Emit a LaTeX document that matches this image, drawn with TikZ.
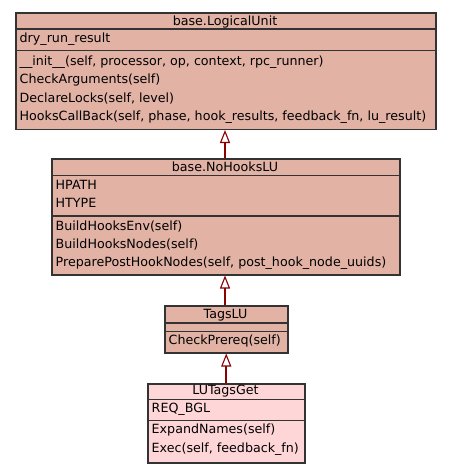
\documentclass[tikz,border=0pt]{standalone}
\usepackage{fontspec}
\setmainfont{DejaVu Sans}
\usetikzlibrary{arrows.meta}
\definecolor{clsfill}{RGB}{226,178,165}
\definecolor{leaffill}{RGB}{255,214,216}
\definecolor{clsline}{RGB}{51,51,51}
\definecolor{inhline}{RGB}{139,0,0}
\begin{document}
\begin{tikzpicture}[x=1pt,y=-1pt,
  umlbox/.style={draw=clsline, line width=1.5pt, rectangle, anchor=north west, inner sep=0pt},
  sep/.style={draw=clsline, line width=1.5pt},
  txt/.style={inner sep=0pt, font=\fontsize{12.67}{15}\selectfont},
  row/.style={txt, anchor=base west},
  title/.style={txt, anchor=base},
  inherit/.style={draw=inhline, line width=2.2pt,
    -{Triangle[open, length=13pt, width=10pt, line width=1.1pt]}}]
  \useasboundingbox[fill=white] (0,0) rectangle (451,472);

  % base.LogicalUnit
  \node[umlbox, fill=clsfill, minimum width=420pt, minimum height=116.5pt] (lu) at (15,12) {};
  \draw[sep] (15,29) -- (435,29);
  \draw[sep] (15,50.5) -- (435,50.5);
  \node[title] (lu-name) at (225,25) {base.LogicalUnit};
  \node[row] (lu-a1) at (19.5,42.5) {dry\_run\_result};
  \node[row] (lu-m1) at (19.5,65) {\_\_init\_\_(self, processor, op, context, rpc\_runner)};
  \node[row] (lu-m2) at (19.5,83.5) {CheckArguments(self)};
  \node[row] (lu-m3) at (19.5,102) {DeclareLocks(self, level)};
  \node[row] (lu-m4) at (19.5,120.5) {HooksCallBack(self, phase, hook\_results, feedback\_fn, lu\_result)};

  % base.NoHooksLU
  \node[umlbox, fill=clsfill, minimum width=348pt, minimum height=116pt] (nh) at (51,158) {};
  \draw[sep] (51,175.7) -- (399,175.7);
  \draw[sep] (51,216) -- (399,216);
  \node[title] (nh-name) at (225,171.3) {base.NoHooksLU};
  \node[row] (nh-a1) at (55.5,189.3) {HPATH};
  \node[row] (nh-a2) at (55.5,207.7) {HTYPE};
  \node[row] (nh-m1) at (55.5,230) {BuildHooksEnv(self)};
  \node[row] (nh-m2) at (55.5,248.3) {BuildHooksNodes(self)};
  \node[row] (nh-m3) at (55.5,266.7) {PreparePostHookNodes(self, post\_hook\_node\_uuids)};

  % TagsLU
  \node[umlbox, fill=clsfill, minimum width=123pt, minimum height=47pt] (tg) at (164,305) {};
  \draw[sep] (164,323) -- (287,323);
  \draw[sep] (164,331.5) -- (287,331.5);
  \node[title] (tg-name) at (225.5,318) {TagsLU};
  \node[row] (tg-m1) at (168.5,344.3) {CheckPrereq(self)};

  % LUTagsGet
  \node[umlbox, fill=leaffill, minimum width=157pt, minimum height=79pt] (gt) at (147,383) {};
  \draw[sep] (147,399.3) -- (304,399.3);
  \draw[sep] (147,420.5) -- (304,420.5);
  \node[title] (gt-name) at (225.5,394.3) {LUTagsGet};
  \node[row] (gt-a1) at (151.5,412.7) {REQ\_BGL};
  \node[row] (gt-m1) at (151.5,433.7) {ExpandNames(self)};
  \node[row] (gt-m2) at (151.5,452.3) {Exec(self, feedback\_fn)};

  % inheritance links
  \draw[inherit] (nh.north -| lu-name) -- (lu.south -| lu-name);
  \draw[inherit] (tg.north -| lu-name) -- (nh.south -| lu-name);
  \draw[inherit] (gt.north) -- (tg.south);
\end{tikzpicture}
\end{document}
